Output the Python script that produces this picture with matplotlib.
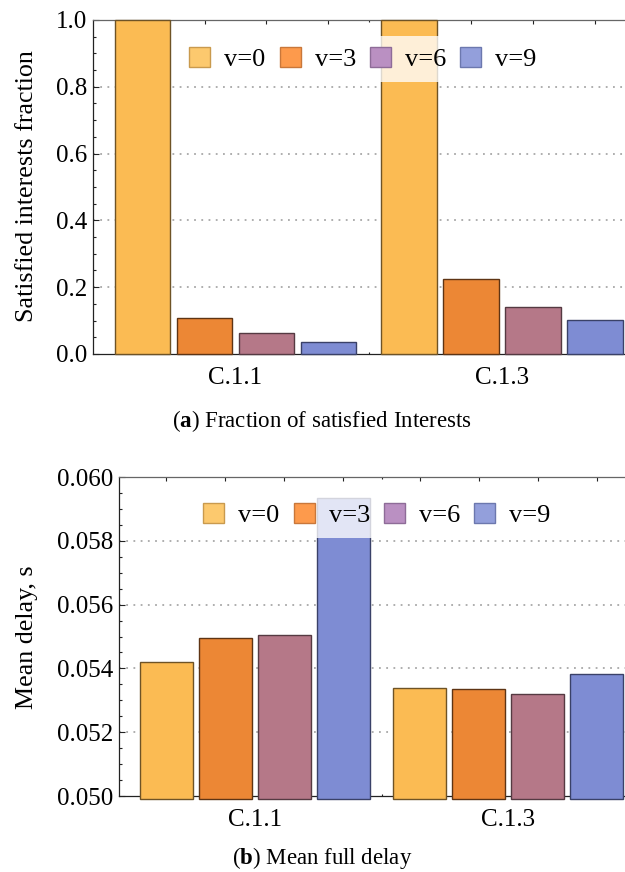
import matplotlib
matplotlib.use('Agg')
import matplotlib.pyplot as plt
import matplotlib.patches as mpatches
from matplotlib.ticker import MultipleLocator, FormatStrFormatter

# Scenarios and protocol versions
scenarios = ['C.1.1', 'C.1.3']
versions = ['v=0', 'v=3', 'v=6', 'v=9']

# Fraction of satisfied interests, one value per version
satisfied_c11 = [1.000, 0.108, 0.063, 0.035]
satisfied_c13 = [1.000, 0.224, 0.141, 0.102]

# Mean full delay in seconds, one value per version
delay_c11 = [0.05419, 0.05494, 0.05504, 0.05935]
delay_c13 = [0.05337, 0.05335, 0.05321, 0.05381]

bar_colors = ['#FBBB53', '#EC8735', '#B57888', '#7E8CD3']
edge_colors = ['#6E5326', '#5E3414', '#553A42', '#3A4168']
legend_colors = ['#FCC96E', '#FD9A4C', '#BA90C2', '#939FDB']
legend_edges = ['#C99A4E', '#C9773A', '#8E6C98', '#6C78AE']

plt.rcParams['font.family'] = ['Liberation Serif', 'DejaVu Serif']
plt.rcParams['mathtext.fontset'] = 'custom'
plt.rcParams['mathtext.rm'] = 'Liberation Serif'
plt.rcParams['mathtext.bf'] = 'Liberation Serif:bold'

GROUP_STEP = 4.3
BAR_WIDTH = 0.9


def draw_panel(fig, rect, groups, ylim, major, minor, fmt, ylabel, ylabel_y,
               legend_xy, caption, caption_y):
    ax = fig.add_axes(rect)
    x_centers = []
    for g, values in enumerate(groups):
        for i, v in enumerate(values):
            x = g * GROUP_STEP + i
            x_centers.append(x)
            # bars start a hair below the axis line, as in the original export
            base = ylim[0] - (ylim[1] - ylim[0]) * 0.01 if ylim[0] > 0 else ylim[0]
            ax.bar(x, v - base, bottom=base, width=BAR_WIDTH, color=bar_colors[i],
                   edgecolor=edge_colors[i], linewidth=1.0, zorder=3, clip_on=False)

    ax.set_xlim(-0.8, 8.03)
    ax.set_ylim(*ylim)

    # ticks at every bar center, plus a short separator between groups
    sep = (len(groups[0]) - 1 + GROUP_STEP) / 2
    ax.set_xticks(x_centers)
    ax.set_xticklabels([])
    ax.set_xticks([sep], minor=True)
    ax.yaxis.set_major_locator(MultipleLocator(major))
    ax.yaxis.set_minor_locator(MultipleLocator(minor))
    ax.yaxis.set_major_formatter(FormatStrFormatter(fmt))
    ax.tick_params(axis='both', which='both', direction='in', top=True, right=False,
                   labelsize=18, color='#222222')
    ax.tick_params(axis='y', which='major', length=4.5, width=0.8, pad=4)
    ax.tick_params(axis='y', which='minor', length=2.5, width=0.8)
    ax.tick_params(axis='x', which='major', length=3, width=0.8)
    ax.tick_params(axis='x', which='minor', length=1.5, width=0.8)

    for name in ('left', 'bottom'):
        ax.spines[name].set_color('#222222')
        ax.spines[name].set_linewidth(0.9)
    ax.spines['top'].set_color('#666666')
    ax.spines['top'].set_linewidth(0.9)
    ax.spines['right'].set_visible(False)

    # dotted horizontal guides behind the bars
    for y in ax.get_yticks():
        if ylim[0] < y < ylim[1] - 1e-9:
            ax.axhline(y, color='#A8A8A8', linewidth=1.3, linestyle=(0, (1, 3)), zorder=1)

    # scenario names under each group
    for g, name in enumerate(scenarios):
        gc = g * GROUP_STEP + (len(groups[g]) - 1) / 2
        ax.annotate(name, xy=(gc, 0), xycoords=('data', 'axes fraction'),
                    xytext=(0, -17), textcoords='offset points',
                    ha='center', va='center', fontsize=18)

    handles = [mpatches.Patch(facecolor=legend_colors[i], edgecolor=legend_edges[i],
                              linewidth=1.0, label=versions[i]) for i in range(4)]
    leg = ax.legend(handles=handles, loc='center', ncol=4, fontsize=19,
                    bbox_to_anchor=legend_xy, bbox_transform=fig.transFigure,
                    handlelength=0.8, handleheight=0.8, handletextpad=0.53,
                    columnspacing=0.53, borderpad=0.4, frameon=True,
                    fancybox=False, framealpha=0.78, edgecolor='none')
    leg.get_frame().set_linewidth(0)
    leg.set_zorder(5)

    fig.text(27 / 625, ylabel_y, ylabel, rotation=90, ha='center', va='center', fontsize=18.7)
    fig.text(0.515, caption_y, caption, ha='center', va='center', fontsize=16.5)
    return ax


fig = plt.figure(figsize=(6.25, 8.72), dpi=100)
W, H = 625.0, 872.0

# top panel: fraction of satisfied interests
draw_panel(fig, [93 / W, 1 - 354 / H, 547 / W, 334 / H],
           [satisfied_c11, satisfied_c13], (0.0, 1.0), 0.2, 0.05, '%.1f',
           'Satisfied interests fraction', 1 - 186 / H,
           (363 / W, 1 - 59 / H),
           r'($\mathbf{a}$) Fraction of satisfied Interests', 1 - 421 / H)

# bottom panel: mean full delay
draw_panel(fig, [119 / W, 1 - 796 / H, 521 / W, 319 / H],
           [delay_c11, delay_c13], (0.050, 0.060), 0.002, 0.0005, '%.3f',
           'Mean delay, s', 1 - 637 / H,
           (377 / W, 1 - 515 / H),
           r'($\mathbf{b}$) Mean full delay', 1 - 858 / H)

fig.savefig('out.png', dpi=100, facecolor='white')
